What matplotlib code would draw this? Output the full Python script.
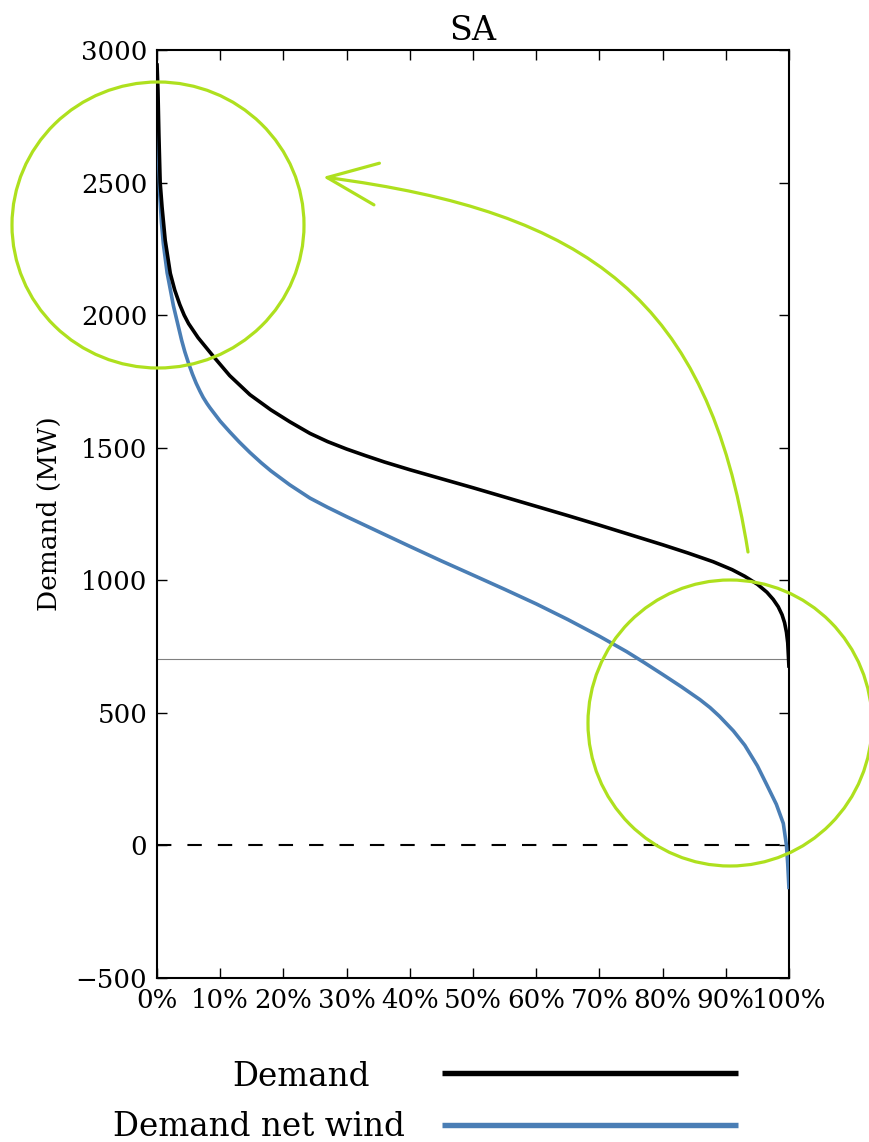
import matplotlib
matplotlib.use("Agg")
import matplotlib.pyplot as plt
from matplotlib.patches import Ellipse, FancyArrowPatch
from matplotlib.path import Path
from matplotlib.lines import Line2D

# ---------------- data ----------------
title = "SA"
series_names = ["Demand", "Demand net wind"]

demand_pct = [0, 0.15, 0.3, 0.5, 0.8, 1.3, 2.1, 2.8, 3.6, 4.3, 5.0, 6.5, 8.9,
              11.5, 14.7, 18, 21, 24.2, 27, 30, 33, 36, 40, 45, 50, 55, 60,
              65, 70, 75, 80, 84, 88, 91, 93, 95, 96.5, 97.5, 98.3, 98.9, 99.3,
              99.6, 99.8, 100]
demand_mw = [2950, 2850, 2680, 2500, 2407, 2282, 2158, 2095, 2040, 2000, 1968,
             1915, 1845, 1772, 1700, 1643, 1598, 1554, 1523, 1495, 1470, 1446,
             1417, 1383, 1349, 1314, 1279, 1244, 1208, 1171, 1134, 1103, 1070,
             1040, 1015, 985, 955, 928, 900, 870, 840, 804, 764, 670]

netwind_pct = [0, 0.1, 0.25, 0.45, 0.7, 1.0, 1.6, 2.6, 3.9, 4.4, 5.0, 5.6, 6.2,
               6.8, 7.3, 7.9, 8.4, 10, 11.5, 13, 14.7, 16.5, 18, 21, 24.2, 27,
               30, 35.8, 40, 45, 49.5, 55, 60, 65, 70, 74.3, 77, 80, 83, 85.9,
               87.5, 89, 91.2, 93, 95, 96.5, 98, 99.1, 99.6, 99.8, 100]
netwind_mw = [2886, 2750, 2600, 2450, 2350, 2270, 2160, 2035, 1905, 1862, 1818,
              1778, 1743, 1713, 1690, 1667, 1650, 1600, 1560, 1522, 1482, 1443,
              1413, 1360, 1310, 1275, 1240, 1175, 1128, 1073, 1025, 966, 911,
              852, 789, 731, 691, 645, 598, 550, 520, 487, 432, 378, 300, 228,
              155, 83, 0, -70, -165]

threshold_mw = 705
xticks = list(range(0, 101, 10))
xtick_labels = [f"{v}%" for v in xticks]
yticks = list(range(-500, 3001, 500))

# ---------------- style ----------------
W, H = 870, 1142
plt.rcParams['font.family'] = ['DejaVu Serif', 'DejaVu Sans']
plt.rcParams['axes.unicode_minus'] = True

fig = plt.figure(figsize=(W / 100, H / 100), dpi=100)
L, R, T, B = 157, 789, 50, 978
ax = fig.add_axes([L / W, 1 - B / H, (R - L) / W, (B - T) / H])

black = "#000000"
blue = "#4a7eb5"
green = "#aee01e"

ax.plot(netwind_pct, netwind_mw, color=blue, lw=2.6, solid_capstyle='butt',
        solid_joinstyle='round', zorder=3)
ax.plot(demand_pct, demand_mw, color=black, lw=2.6, solid_capstyle='butt',
        solid_joinstyle='round', zorder=4)
ax.axhline(threshold_mw, color="#808080", lw=0.8, zorder=2)
ax.axhline(0, color=black, lw=1.5, linestyle=(0, (6.9, 7.7)), zorder=2)

ax.set_xlim(0, 100)
ax.set_ylim(-500, 3000)
ax.set_xticks(xticks)
ax.set_xticklabels(xtick_labels)
ax.set_yticks(yticks)
ax.tick_params(direction='in', top=True, right=True, length=7, width=1,
               labelsize=18.7, pad=7)
for s in ax.spines.values():
    s.set_linewidth(1.5)

ax.set_ylabel("Demand (MW)", fontsize=19)
ax.yaxis.set_label_coords(-0.15, 0.5)
ax.set_title(title, fontsize=24, pad=7)

# ---------------- annotations ----------------
px_x = (R - L) / 100.0          # pixels per percent
px_y = (B - T) / 3500.0         # pixels per MW

def to_data(x_img, y_img):
    return (x_img - L) / px_x, 3000 - (y_img - T) / px_y

def to_fig(x_img, y_img):
    return x_img / W, 1 - y_img / H

c1 = to_data(158, 225)
ax.add_patch(Ellipse(c1, 2 * 146 / px_x, 2 * 143 / px_y, fill=False,
                     edgecolor=green, lw=2.3, clip_on=False, zorder=6))
c2 = to_data(730, 723)
ax.add_patch(Ellipse(c2, 2 * 142 / px_x, 2 * 143 / px_y, fill=False,
                     edgecolor=green, lw=2.3, clip_on=False, zorder=6))

arrow_path = Path([to_fig(748, 552), to_fig(708, 300),
                   to_fig(590, 212), to_fig(323, 177)],
                  [Path.MOVETO, Path.CURVE4, Path.CURVE4, Path.CURVE4])
arrow = FancyArrowPatch(path=arrow_path,
                        arrowstyle="->,head_length=1.0,head_width=0.42",
                        mutation_scale=36, color=green, lw=2.3,
                        transform=fig.transFigure, zorder=6)
fig.add_artist(arrow)

# ---------------- legend below ----------------
leg_items = [(series_names[0], black, 232, 1086, 1073),
             (series_names[1], blue, 113, 1136, 1125)]
for name, col, tx, ty, ly in leg_items:
    fig.text(tx / W, 1 - ty / H, name, fontsize=23.5, ha='left', va='baseline')
    fig.add_artist(Line2D([442 / W, 738 / W], [1 - ly / H, 1 - ly / H],
                          transform=fig.transFigure, color=col, lw=3.9,
                          solid_capstyle='butt'))

fig.savefig("out.png", dpi=100)
